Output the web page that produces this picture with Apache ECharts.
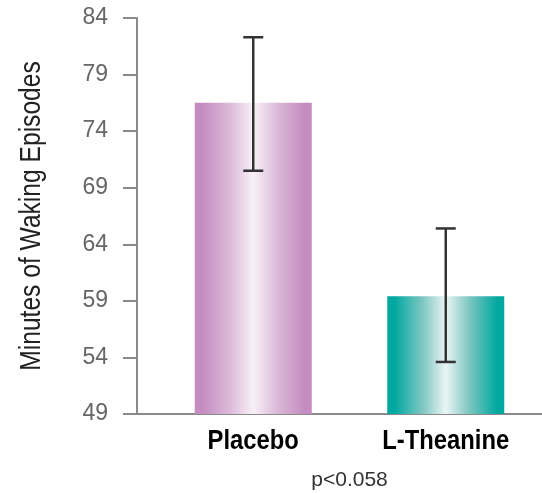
<!DOCTYPE html>
<html>
<head>
<meta charset="utf-8">
<script src="https://cdn.jsdelivr.net/npm/echarts@6/dist/echarts.min.js"></script>
<style>
  html, body { margin: 0; padding: 0; background: #fff; }
  #chart { width: 542px; height: 493px; }
</style>
</head>
<body>
<div id="chart"></div>
<script>
// Group labels and mean minutes of waking episodes
const categories = ['Placebo', 'L-Theanine'];
const means = [76.5, 59.4];
// Error bar ends (low / high)
const errLow = [70.5, 53.6];
const errHigh = [82.3, 65.4];
// Value axis range and step
const yMin = 49;
const yMax = 84;
const yStep = 5;
const yTitle = 'Minutes of Waking Episodes';
const note = 'p<0.058';

const SANS = '"Liberation Sans", Arial, sans-serif';
// Condensed look for the heavy labels: regular face squeezed horizontally
const SQUEEZE = 0.85;

function hGradient(edge, mid, center) {
  return new echarts.graphic.LinearGradient(0, 0, 1, 0, [
    { offset: 0, color: edge },
    { offset: 0.06, color: edge },
    { offset: 0.3, color: mid },
    { offset: 0.5, color: center },
    { offset: 0.7, color: mid },
    { offset: 0.94, color: edge },
    { offset: 1, color: edge }
  ]);
}
const barFills = [
  hGradient('#c48cc0', '#dcbad9', '#f8f1f7'),
  hGradient('#00a8a0', '#7ec6c2', '#eaf5f4')
];

const chart = echarts.init(document.getElementById('chart'), null, { renderer: 'canvas' });

chart.setOption({
  animation: false,
  backgroundColor: '#ffffff',
  grid: { left: 157, right: 0, top: 18, bottom: 79, containLabel: false, outerBoundsMode: 'none' },
  xAxis: {
    type: 'category',
    data: categories,
    axisLine: { show: true, lineStyle: { color: '#8a8a8a', width: 2 } },
    axisTick: { show: false },
    axisLabel: { show: false },
    name: note,
    nameLocation: 'middle',
    nameGap: 56,
    nameTextStyle: { color: '#333', fontFamily: SANS, fontSize: 21 }
  },
  yAxis: {
    type: 'value',
    min: yMin,
    max: yMax,
    interval: yStep,
    offset: 20,
    splitLine: { show: false },
    axisLine: { show: true, lineStyle: { color: '#8a8a8a', width: 2 } },
    axisTick: { show: true, length: 14, lineStyle: { color: '#8a8a8a', width: 2 } },
    axisLabel: {
      margin: 29,
      color: '#666',
      fontFamily: SANS,
      fontSize: 23
    }
  },
  series: [
    {
      type: 'bar',
      barWidth: 117,
      data: means.map((v, i) => ({ value: v, itemStyle: { color: barFills[i] } })),
      z: 2
    },
    {
      type: 'custom',
      z: 5,
      data: categories.map((c, i) => [i, errLow[i], errHigh[i]]),
      renderItem: function (params, api) {
        const x = api.value(0);
        const lo = api.coord([x, api.value(1)]);
        const hi = api.coord([x, api.value(2)]);
        const half = 10;
        const style = { stroke: '#333', lineWidth: 2.5 };
        return {
          type: 'group',
          children: [
            { type: 'line', shape: { x1: hi[0], y1: hi[1], x2: lo[0], y2: lo[1] }, style: style },
            { type: 'line', shape: { x1: hi[0] - half, y1: hi[1], x2: hi[0] + half, y2: hi[1] }, style: style },
            { type: 'line', shape: { x1: lo[0] - half, y1: lo[1], x2: lo[0] + half, y2: lo[1] }, style: style }
          ]
        };
      }
    }
  ]
});

// Positions taken from the axes once they are laid out
const baseY = chart.convertToPixel({ yAxisIndex: 0 }, yMin);
const topY = chart.convertToPixel({ yAxisIndex: 0 }, yMax);
const band = chart.getModel().getComponent('xAxis', 0).axis.getBandWidth();
const gridLeft = chart.convertToPixel({ xAxisIndex: 0 }, categories[0]) - band / 2;
const axisX = gridLeft - 20;

const graphics = [{
  // baseline runs left to meet the offset value axis
  type: 'line',
  shape: { x1: axisX, y1: baseY, x2: gridLeft, y2: baseY },
  style: { stroke: '#8a8a8a', lineWidth: 2 },
  z: 1
}, {
  // value axis title, condensed
  type: 'text',
  x: axisX - 105,
  y: (baseY + topY) / 2,
  rotation: Math.PI / 2,
  scaleX: 0.82,
  style: {
    text: yTitle,
    font: '30px "Liberation Sans", Arial, sans-serif',
    fill: '#222',
    align: 'center',
    verticalAlign: 'middle'
  }
}];

categories.forEach(function (c) {
  graphics.push({
    type: 'text',
    x: chart.convertToPixel({ xAxisIndex: 0 }, c),
    y: baseY + 27,
    scaleX: SQUEEZE,
    style: {
      text: c,
      font: 'bold 28px "Liberation Sans", Arial, sans-serif',
      fill: '#000',
      align: 'center',
      verticalAlign: 'middle'
    }
  });
});

chart.setOption({ graphic: graphics });
</script>
</body>
</html>
